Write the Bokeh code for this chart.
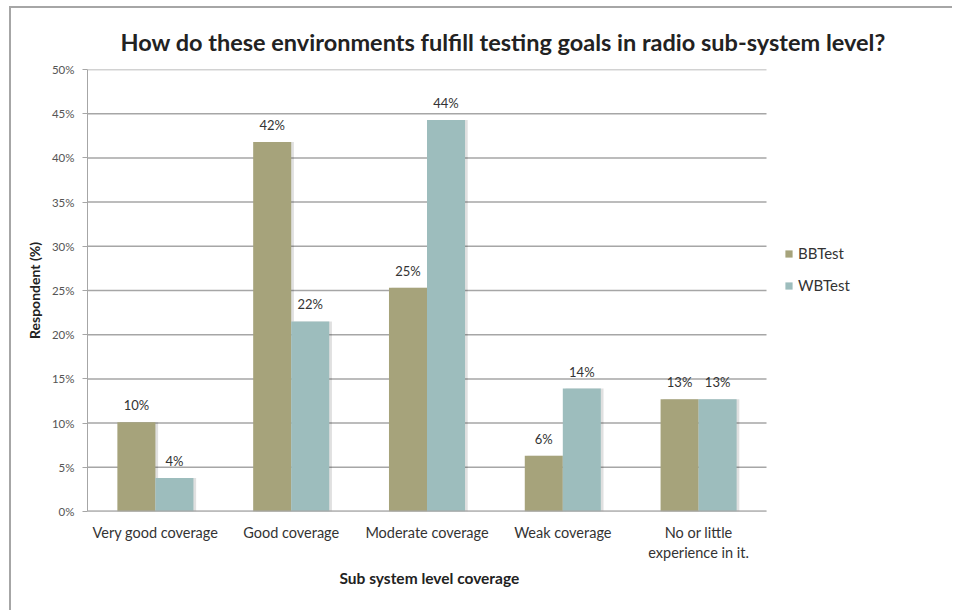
from bokeh.plotting import figure
from bokeh.models import (ColumnDataSource, Range1d, PrintfTickFormatter,
                          LabelSet, Legend, LegendItem, FixedTicker, Title)
from bokeh.transform import dodge
from bokeh.core.properties import value
from bokeh.embed import file_html
from bokeh.resources import INLINE

categories = ["Very good coverage", "Good coverage", "Moderate coverage",
              "Weak coverage", "No or little\nexperience in it."]
bbtest = [10.1, 41.8, 25.3, 6.3, 12.7]
wbtest = [3.8, 21.5, 44.3, 13.9, 12.7]
bb_labels = ["10%", "42%", "25%", "6%", "13%"]
wb_labels = ["4%", "22%", "44%", "14%", "13%"]
y_ticks = [0, 5, 10, 15, 20, 25, 30, 35, 40, 45, 50]

FONT = "Lato"
BB_COLOR = "#a6a37b"
WB_COLOR = "#9dbdbd"
GRID = "#a6a6a6"

n = len(categories)
idx = list(range(n))
src = ColumnDataSource(dict(x=idx, bb=bbtest, wb=wbtest, bbl=bb_labels, wbl=wb_labels))

# layout: plot area of the categories is 679 px wide; the frame extends to the right edge
CAT_W = 679.0
LEFT = 76
W = 943
frame_w = W - LEFT
x_end = -0.5 + n * frame_w / CAT_W

p = figure(x_range=Range1d(-0.5, x_end), y_range=Range1d(0, 50), width=W, height=604,
           output_backend="svg", toolbar_location=None,
           min_border_left=LEFT, min_border_right=0,
           min_border_top=61, min_border_bottom=101,
           title="How do these environments fulfill testing goals in radio sub-system level?")
p.margin = (6, 0, 0, 9)
p.styles = {"border-left": "2px solid #a6a6a6", "border-top": "2px solid #a6a6a6"}
p.outline_line_color = None
p.background_fill_color = "white"
p.border_fill_color = "white"

p.title.align = "left"
p.title.offset = 33
p.title.text_font = FONT
p.title.text_font_size = "23.5px"
p.title.text_font_style = "bold"
p.title.text_color = "#222222"
p.title.standoff = 28

# horizontal grid lines limited to the category area
p.segment(x0=[-0.5] * len(y_ticks), x1=[n - 0.5] * len(y_ticks), y0=y_ticks, y1=y_ticks,
          line_color=GRID, line_width=1.5)

# shadows
bw = 0.28
p.vbar(x=dodge("x", -0.14 + 0.02), top="bb", width=bw, source=src,
       fill_color="#000000", fill_alpha=0.12, line_color=None)
p.vbar(x=dodge("x", 0.14 + 0.02), top="wb", width=bw, source=src,
       fill_color="#000000", fill_alpha=0.12, line_color=None)

r1 = p.vbar(x=dodge("x", -0.14), top="bb", width=bw, source=src,
            fill_color=BB_COLOR, line_color=None)
r2 = p.vbar(x=dodge("x", 0.14), top="wb", width=bw, source=src,
            fill_color=WB_COLOR, line_color=None)

# x axis baseline
p.segment(x0=[-0.5], x1=[n - 0.5], y0=[0], y1=[0], line_color=GRID, line_width=2)

for ycol, lcol, off in [("bb", "bbl", -0.14), ("wb", "wbl", 0.14)]:
    ls = LabelSet(x=dodge("x", off), y=ycol, text=lcol, source=src,
                  text_align="center", text_baseline="bottom", y_offset=9,
                  text_font=value(FONT), text_font_size="13px", text_color="#333333")
    p.add_layout(ls)

# axes
p.yaxis.ticker = FixedTicker(ticks=y_ticks)
p.yaxis.formatter = PrintfTickFormatter(format="%d%%")
p.yaxis.major_label_text_font = FONT
p.yaxis.major_label_text_font_size = "11.5px"
p.yaxis.major_label_text_color = "#555555"
p.yaxis.axis_line_color = GRID
p.yaxis.major_tick_line_color = GRID
p.yaxis.major_tick_out = 5
p.yaxis.major_tick_in = 0
p.yaxis.minor_tick_line_color = None
p.yaxis.major_label_standoff = 8
p.yaxis.axis_label = "Respondent (%)"
p.yaxis.axis_label_text_font = FONT
p.yaxis.axis_label_text_font_style = "bold"
p.yaxis.axis_label_text_font_size = "14px"
p.yaxis.axis_label_text_color = "#222222"
p.yaxis.axis_label_standoff = 6

p.xaxis.ticker = FixedTicker(ticks=idx)
p.xaxis.major_label_overrides = {i: c for i, c in zip(idx, categories)}
p.xaxis.axis_line_color = None
p.xaxis.major_tick_line_color = None
p.xaxis.minor_tick_line_color = None
p.xaxis.major_label_text_font = FONT
p.xaxis.major_label_text_font_size = "14.5px"
p.xaxis.major_label_text_color = "#333333"
p.xaxis.major_label_standoff = 6

p.xgrid.grid_line_color = None
p.ygrid.grid_line_color = None

# x axis title, below the category labels
xtitle = Title(text="Sub system level coverage", align="left", offset=252,
               vertical_align="top", standoff=10, text_font=FONT,
               text_font_size="15.5px", text_font_style="bold", text_color="#222222")
p.add_layout(xtitle, "below")

legend = Legend(items=[LegendItem(label="BBTest", renderers=[r1]),
                       LegendItem(label="WBTest", renderers=[r2])],
                location=(697, 217), glyph_width=9, glyph_height=9,
                label_text_font=FONT, label_text_font_size="15px",
                label_text_color="#333333", spacing=14, border_line_color=None,
                background_fill_alpha=0, label_standoff=5, margin=0, padding=0)
p.add_layout(legend, "center")

open("out.html", "w").write(file_html(p, INLINE))
